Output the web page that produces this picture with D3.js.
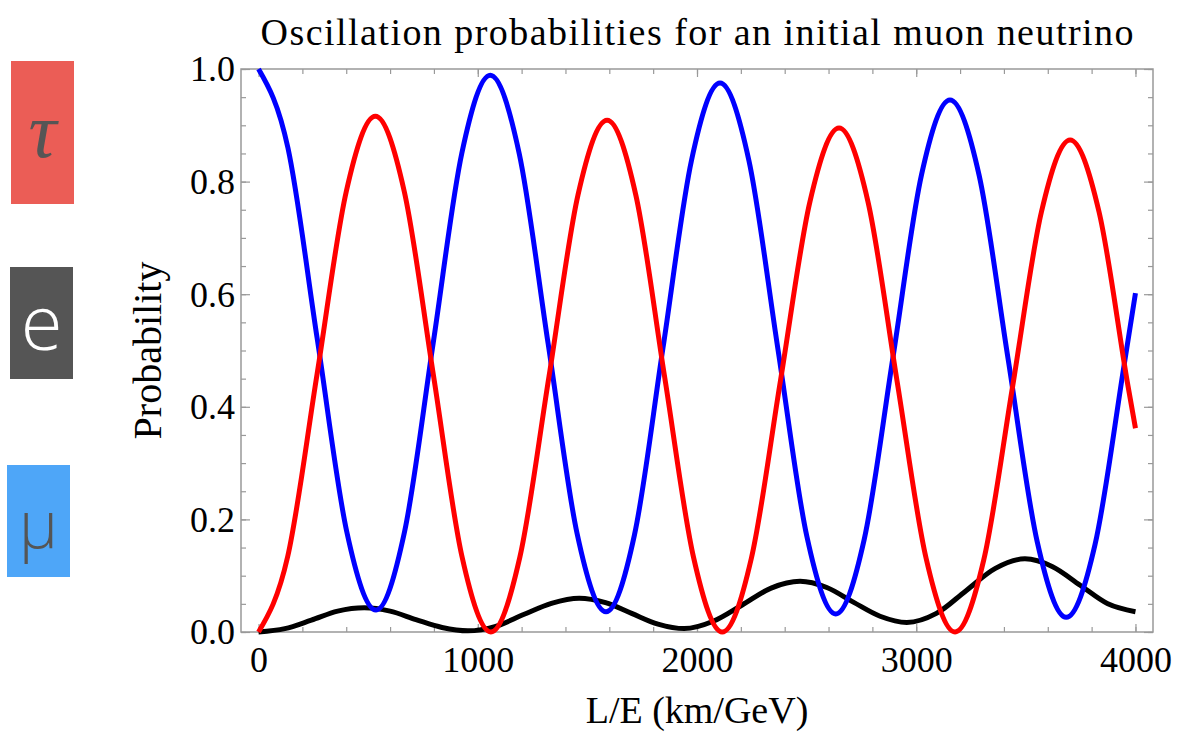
<!DOCTYPE html>
<html>
<head>
<meta charset="utf-8">
<script src="https://cdn.jsdelivr.net/npm/d3@7"></script>
<style>
body { margin: 0; background: #fff; }
</style>
</head>
<body>
<div id="chart"></div>
<script>
// muon survival (blue)
var muX = [0, 134, 268, 402, 536, 666, 797, 927, 1057, 1189, 1321, 1453, 1585, 1715, 1845, 1975, 2105,
           2237, 2369, 2501, 2633, 2763, 2894, 3024, 3154, 3287, 3419, 3552, 3684, 3816, 3947, 4000];
var muP = [1.000, 0.860, 0.520, 0.179, 0.039, 0.178, 0.514, 0.850, 0.989, 0.850, 0.512, 0.175, 0.036, 0.173, 0.505, 0.838, 0.975,
           0.837, 0.503, 0.170, 0.032, 0.165, 0.488, 0.812, 0.945, 0.811, 0.485, 0.160, 0.026, 0.156, 0.471, 0.602];

// muon -> tau (red)
var tauX = [0, 133, 267, 400, 533, 665, 797, 928, 1060, 1192, 1325, 1457, 1590, 1721, 1852, 1984, 2115,
            2248, 2381, 2515, 2648, 2780, 2912, 3045, 3177, 3308, 3440, 3571, 3702, 3834, 3966, 4000];
var tauP = [0.000, 0.134, 0.458, 0.782, 0.916, 0.782, 0.458, 0.134, 0.000, 0.133, 0.454, 0.776, 0.909, 0.776, 0.454, 0.133, 0.000,
            0.131, 0.447, 0.764, 0.895, 0.764, 0.447, 0.131, 0.000, 0.128, 0.437, 0.746, 0.874, 0.746, 0.437, 0.362];

// muon -> electron (black)
var eX = [0, 120, 241, 361, 482, 600, 718, 837, 955, 1082, 1209, 1336, 1463, 1583, 1702, 1822, 1942,
          2074, 2206, 2338, 2470, 2592, 2713, 2835, 2957, 3092, 3226, 3361, 3496, 3622, 3748, 3874, 4000];
var eP = [0.000, 0.006, 0.021, 0.037, 0.043, 0.037, 0.022, 0.008, 0.002, 0.010, 0.031, 0.051, 0.060, 0.052, 0.033, 0.014, 0.006,
          0.019, 0.048, 0.078, 0.090, 0.079, 0.053, 0.028, 0.017, 0.033, 0.073, 0.113, 0.130, 0.116, 0.083, 0.050, 0.036];

var xTicks = [0, 1000, 2000, 3000, 4000];
var yTicks = [0, 0.2, 0.4, 0.6, 0.8, 1.0];

var legendLabels = ["\u03c4", "e", "\u03bc"];
var legendColors = ["#eb5d56", "#555555", "#4ea6f8"];

function init() {
    var w = 1178; // Width of the SVG
    var h = 736; // Height of the SVG
    var left = 241, right = 1153, top = 69, bottom = 632; // plot frame
    var frameColor = "#999";

    var svg = d3.select("#chart")
                .append("svg")
                .attr("width", w)
                .attr("height", h);

    var xScale = d3.scaleLinear().domain([-80, 4080]).range([left, right]);
    var yScale = d3.scaleLinear().domain([0, 1]).range([bottom, top]);

    // Title
    svg.append("text")
       .attr("x", (left + right) / 2)
       .attr("y", 45)
       .attr("text-anchor", "middle")
       .attr("textLength", 873)
       .attr("lengthAdjust", "spacing")
       .style("font-family", "'Liberation Serif', 'Times New Roman', serif")
       .style("font-size", "38px")
       .text("Oscillation probabilities for an initial muon neutrino");

    // Minor + major ticks on all four sides, pointing inward
    var xMinor = d3.range(0, 4001, 200);
    var yMinor = d3.range(0, 1.0001, 0.05);

    function tickAxis(axis, tx, ty) {
        var g = svg.append("g")
           .attr("transform", "translate(" + tx + "," + ty + ")")
           .call(axis);
        g.select(".domain").remove();
        g.selectAll("line").attr("stroke", frameColor).attr("stroke-width", 1.2);
        return g;
    }

    tickAxis(d3.axisBottom(xScale).tickValues(xMinor).tickSize(-5).tickFormat(""), 0, bottom);
    tickAxis(d3.axisTop(xScale).tickValues(xMinor).tickSize(-5).tickFormat(""), 0, top);
    tickAxis(d3.axisLeft(yScale).tickValues(yMinor).tickSize(-5).tickFormat(""), left, 0);
    tickAxis(d3.axisRight(yScale).tickValues(yMinor).tickSize(-5).tickFormat(""), right, 0);

    // X axis with labels
    var gx = tickAxis(d3.axisBottom(xScale).tickValues(xTicks).tickSize(-8).tickFormat(d3.format("d")), 0, bottom);
    tickAxis(d3.axisTop(xScale).tickValues(xTicks).tickSize(-8).tickFormat(""), 0, top);
    gx.selectAll("text")
      .attr("y", 40)
      .attr("dy", null)
      .attr("fill", "#000")
      .style("font-family", "'Liberation Serif', 'Times New Roman', serif")
      .style("font-size", "36px");

    // Y axis with labels
    var gy = tickAxis(d3.axisLeft(yScale).tickValues(yTicks).tickSize(-9).tickFormat(d3.format(".1f")), left, 0);
    tickAxis(d3.axisRight(yScale).tickValues(yTicks).tickSize(-9).tickFormat(""), right, 0);
    gy.selectAll("text")
      .attr("x", -6)
      .attr("dy", "0.33em")
      .attr("fill", "#000")
      .style("font-family", "'Liberation Serif', 'Times New Roman', serif")
      .style("font-size", "36px");

    // Frame
    svg.append("rect")
       .attr("x", left)
       .attr("y", top)
       .attr("width", right - left)
       .attr("height", bottom - top)
       .attr("fill", "none")
       .attr("stroke", frameColor)
       .attr("stroke-width", 1.5);

    // Axis titles
    svg.append("text")
       .attr("x", (left + right) / 2)
       .attr("y", 723)
       .attr("text-anchor", "middle")
       .style("font-family", "'Liberation Serif', 'Times New Roman', serif")
       .style("font-size", "38px")
       .text("L/E (km/GeV)");

    svg.append("text")
       .attr("transform", "translate(161," + (top + bottom) / 2 + ") rotate(-90)")
       .attr("text-anchor", "middle")
       .style("font-family", "'Liberation Serif', 'Times New Roman', serif")
       .style("font-size", "40px")
       .text("Probability");

    // Curves: black under blue under red
    var series = [
        { xs: eX, ys: eP, color: "#000000" },
        { xs: muX, ys: muP, color: "#0000ff" },
        { xs: tauX, ys: tauP, color: "#ff0000" }
    ];

    var line = d3.line()
                 .x(function(d) { return xScale(d[0]); })
                 .y(function(d) { return yScale(d[1]); })
                 .curve(d3.curveMonotoneX);

    series.forEach(function(s) {
        svg.append("path")
           .datum(d3.zip(s.xs, s.ys))
           .attr("d", line)
           .attr("fill", "none")
           .attr("stroke", s.color)
           .attr("stroke-width", 5)
           .attr("stroke-linejoin", "round");
    });

    // Flavour boxes at the left
    var boxes = [
        { x: 11, y: 61, w: 63, h: 143, ty: 157, size: 78, font: "'Liberation Serif', serif", style: "italic", weight: 400, fill: "#555" },
        { x: 10, y: 267, w: 63, h: 112, ty: 350, size: 76, font: "'Open Sans', Roboto, sans-serif", style: "normal", weight: 300, fill: "#fff" },
        { x: 7, y: 465, w: 63, h: 112, ty: 548, size: 66, font: "'Open Sans', Roboto, sans-serif", style: "normal", weight: 300, fill: "#555" }
    ];

    var lg = svg.selectAll(".flavour")
                .data(boxes)
                .enter()
                .append("g")
                .attr("class", "flavour");

    lg.append("rect")
      .attr("x", function(d) { return d.x; })
      .attr("y", function(d) { return d.y; })
      .attr("width", function(d) { return d.w; })
      .attr("height", function(d) { return d.h; })
      .attr("fill", function(d, i) { return legendColors[i]; });

    lg.append("text")
      .attr("x", function(d) { return d.x + d.w / 2; })
      .attr("y", function(d) { return d.ty; })
      .attr("text-anchor", "middle")
      .attr("fill", function(d) { return d.fill; })
      .style("font-family", function(d) { return d.font; })
      .style("font-style", function(d) { return d.style; })
      .style("font-weight", function(d) { return d.weight; })
      .style("font-size", function(d) { return d.size + "px"; })
      .text(function(d, i) { return legendLabels[i]; });
}

window.onload = init;
</script>
</body>
</html>
